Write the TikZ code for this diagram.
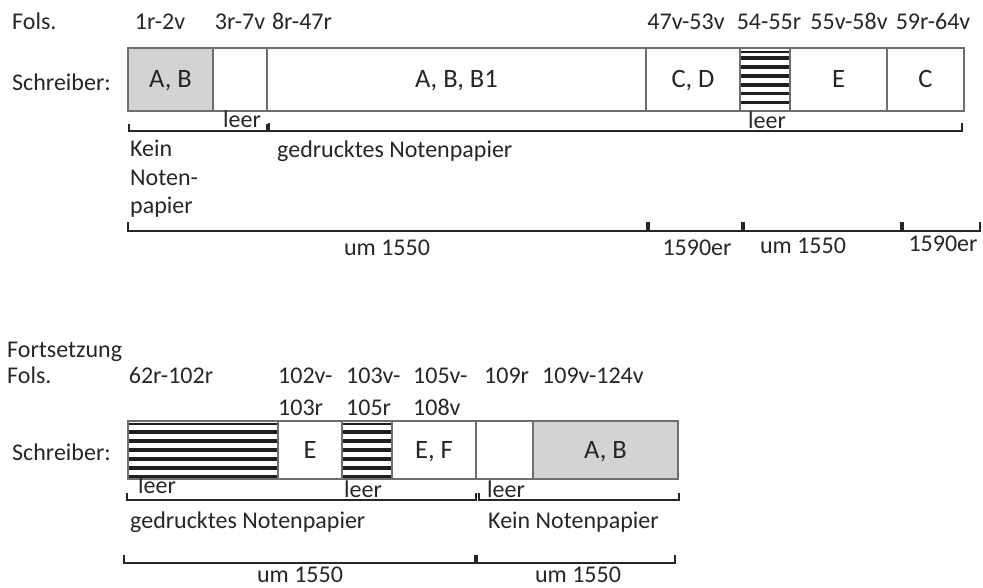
\documentclass[tikz,border=0pt]{standalone}
\usepackage{fontspec}
\setmainfont{Carlito}
\definecolor{boxline}{HTML}{6E6E6E}
\definecolor{boxgray}{HTML}{D3D3D3}
\definecolor{txtc}{HTML}{262626}
\newcommand\brk[4]{\draw[brk] (#1,#3-#4) -- (#1,#3) -- (#2,#3) -- (#2,#3-#4);}
\newcommand\stripes[1]{%
  \foreach \o/\w in {#1}{%
    \draw[line width=\w pt, black!88]
      ([yshift=-\o pt]path picture bounding box.north west) --
      ([yshift=-\o pt]path picture bounding box.north east);}}
\begin{document}
\begin{tikzpicture}[
  x=1pt, y=-1pt,
  txt/.style={font=\fontsize{24}{29}\selectfont, text=txtc, inner sep=0pt, anchor=base},
  lbl/.style={txt, anchor=base west},
  seg/.style={draw=boxline, line width=1.6pt, fill=white, inner sep=0pt, outer sep=0pt,
    font=\fontsize{26.5}{31}\selectfont, text=txtc, text height=17pt, text depth=0pt},
  grey/.style={fill=boxgray},
  hatchtop/.style={path picture={\stripes{4/2,10/3.5,19/3.5,28/3.5,37/3.5,45.5/3.5,54.5/3.5}}},
  hatchbot/.style={path picture={\stripes{3/2,11/3.5,20/3.5,29/3.5,38/3.5,47/3.5,55.5/3.5}}},
  brk/.style={line width=2pt, draw=black!85}
]
\useasboundingbox (0,0) rectangle (983,588);

% ---------- upper part ----------
\node[lbl] (fols1) at (12,30) {Fols.};
\node[txt] (f1) at (160,30) {1r-2v};
\node[txt] (f2) at (240,30) {3r-7v};
\node[txt] (f3) at (302,30) {8r-47r};
\node[txt] (f4) at (686,30) {47v-53v};
\node[txt] (f5) at (769,30) {54-55r};
\node[txt] (f6) at (849,30) {55v-58v};
\node[txt] (f7) at (933,30) {59r-64v};

\node[lbl] (schr1) at (12,91) {Schreiber:};

\node[seg,grey,minimum width=85pt,minimum height=63pt] (b1) at (170.5,79.5) {A, B};
\node[seg,minimum width=54pt,minimum height=63pt] (b2) at (240,79.5) {};
\node[seg,minimum width=379pt,minimum height=63pt] (b3) at (456.5,79.5) {A, B, B1};
\node[seg,minimum width=94pt,minimum height=63pt] (b4) at (693,79.5) {C, D};
\node[seg,hatchtop,minimum width=50pt,minimum height=63pt] (b5) at (765,79.5) {};
\node[seg,minimum width=97pt,minimum height=63pt] (b6) at (838.5,79.5) {E};
\node[seg,minimum width=77pt,minimum height=63pt] (b7) at (925.5,79.5) {C};

\node[txt] (leer1) at (242,128) {leer};
\node[txt] (leer2) at (767,129) {leer};
\brk{129}{267}{131}{7}
\brk{269}{962}{131}{8}

\node[lbl] (kein1) at (130,157) {Kein};
\node[lbl] (kein2) at (130,186) {Noten-};
\node[lbl] (kein3) at (130,214) {papier};
\node[lbl] (ged1) at (277,158) {gedrucktes Notenpapier};

\brk{128}{647}{231}{9}
\brk{649}{742}{231}{9}
\brk{744}{901}{231}{9}
\brk{903}{980}{231}{9}
\node[txt] (d1) at (387,255) {um 1550};
\node[txt] (d2) at (697,256) {1590er};
\node[txt] (d3) at (803,254) {um 1550};
\node[txt] (d4) at (943,252) {1590er};

% ---------- lower part ----------
\node[lbl] (forts) at (7,357) {Fortsetzung};
\node[lbl] (fols2) at (7,383) {Fols.};
\node[txt] (g1) at (171,383) {62r-102r};
\node[lbl] (g2a) at (278,383) {102v-};
\node[lbl] (g2b) at (278,415) {103r};
\node[lbl] (g3a) at (346,383) {103v-};
\node[lbl] (g3b) at (346,415) {105r};
\node[lbl] (g4a) at (413,383) {105v-};
\node[lbl] (g4b) at (413,415) {108v};
\node[lbl] (g5) at (484,383) {109r};
\node[lbl] (g6) at (542,383) {109v-124v};

\node[lbl] (schr2) at (12,460) {Schreiber:};

\node[seg,hatchbot,minimum width=150pt,minimum height=58pt] (c1) at (203,450) {};
\node[seg,minimum width=64pt,minimum height=58pt] (c2) at (310,450) {E};
\node[seg,hatchbot,minimum width=50pt,minimum height=58pt] (c3) at (367,450) {};
\node[seg,minimum width=84pt,minimum height=58pt] (c4) at (434,450) {E, F};
\node[seg,minimum width=57pt,minimum height=58pt] (c5) at (504.5,450) {};
\node[seg,grey,minimum width=145pt,minimum height=58pt] (c6) at (605.5,450) {A, B};

\node[txt] (leer3) at (157,493) {leer};
\node[txt] (leer4) at (363,497) {leer};
\node[txt] (leer5) at (506,497) {leer};
\brk{127}{476}{500}{7}
\brk{479}{679}{500}{7}

\node[lbl] (ged2) at (130,528) {gedrucktes Notenpapier};
\node[lbl] (kein4) at (488,528) {Kein Notenpapier};

\brk{124}{475}{563}{8}
\brk{477}{675}{563}{8}
\node[txt] (d5) at (300,582) {um 1550};
\node[txt] (d6) at (578,582) {um 1550};
\end{tikzpicture}
\end{document}
